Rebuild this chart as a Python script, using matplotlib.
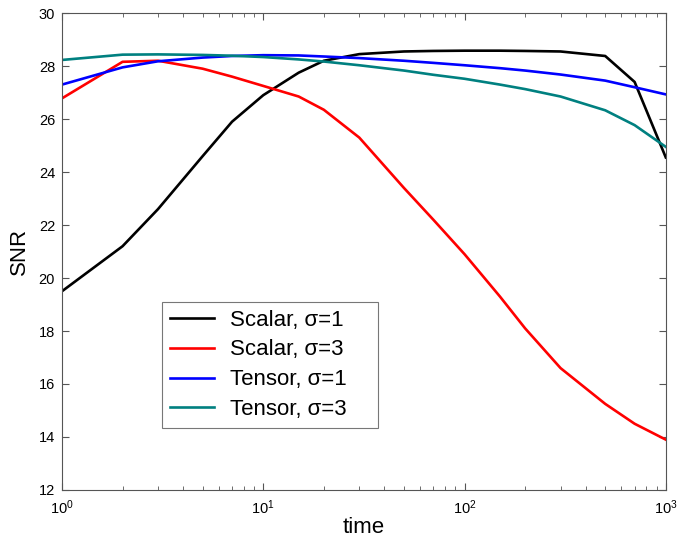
import matplotlib
matplotlib.use("Agg")
import matplotlib.pyplot as plt
from matplotlib.ticker import LogLocator

# sample times and SNR values
time = [1, 2, 3, 5, 7, 10, 15, 20, 30, 50, 70, 100, 150, 200, 300, 500, 700, 1000]
scalar_s1 = [19.5, 21.2, 22.6, 24.6, 25.9, 26.9, 27.75, 28.2, 28.45, 28.55, 28.57,
             28.58, 28.58, 28.57, 28.55, 28.38, 27.4, 24.55]
scalar_s3 = [26.78, 28.16, 28.2, 27.9, 27.6, 27.25, 26.85, 26.35, 25.3, 23.4, 22.2,
             20.9, 19.3, 18.1, 16.6, 15.25, 14.5, 13.9]
tensor_s1 = [27.3, 27.95, 28.18, 28.32, 28.38, 28.41, 28.4, 28.36, 28.3, 28.2, 28.12,
             28.03, 27.92, 27.83, 27.68, 27.45, 27.2, 26.93]
tensor_s3 = [28.23, 28.43, 28.44, 28.42, 28.39, 28.34, 28.25, 28.17, 28.03, 27.83, 27.67,
             27.52, 27.3, 27.13, 26.85, 26.33, 25.77, 24.95]

series = [
    ("Scalar, \u03c3=1", scalar_s1, "#000000"),
    ("Scalar, \u03c3=3", scalar_s3, "#ff0000"),
    ("Tensor, \u03c3=1", tensor_s1, "#0000ff"),
    ("Tensor, \u03c3=3", tensor_s3, "#008080"),
]

plt.rcParams["font.family"] = ["Liberation Sans", "DejaVu Sans"]

fig = plt.figure(figsize=(6.78, 5.44), dpi=100)
ax = fig.add_axes([0.0914, 0.0993, 0.8906, 0.8767])

for label, values, color in series:
    ax.plot(time, values, color=color, linewidth=1.9, label=label)

ax.set_xscale("log")
ax.set_xlim(1, 1000)
ax.set_ylim(12, 30)
ax.set_yticks(range(12, 31, 2))
ax.xaxis.set_minor_locator(LogLocator(base=10, subs=range(2, 10)))

for spine in ax.spines.values():
    spine.set_color("#555555")
    spine.set_linewidth(0.8)
ax.tick_params(which="both", direction="in", top=True, right=True, colors="#555555",
               labelcolor="black", labelsize=10.5)
ax.tick_params(which="major", length=5)
ax.tick_params(which="minor", length=3)
ax.tick_params(axis="x", pad=6)
ax.tick_params(axis="y", pad=5)

ax.set_xlabel("time", fontsize=16, labelpad=0)
ax.set_ylabel("SNR", fontsize=16, labelpad=6)

leg = ax.legend(loc="lower left", bbox_to_anchor=(0.166, 0.13, 0.358, 0.262), mode="expand",
                fontsize=16, frameon=True, fancybox=False, borderaxespad=0,
                handlelength=2.0, handletextpad=0.7, labelspacing=0.4, borderpad=0.35)
leg.get_frame().set_edgecolor("#555555")
leg.get_frame().set_linewidth(0.8)

fig.savefig("out.png", dpi=100)
